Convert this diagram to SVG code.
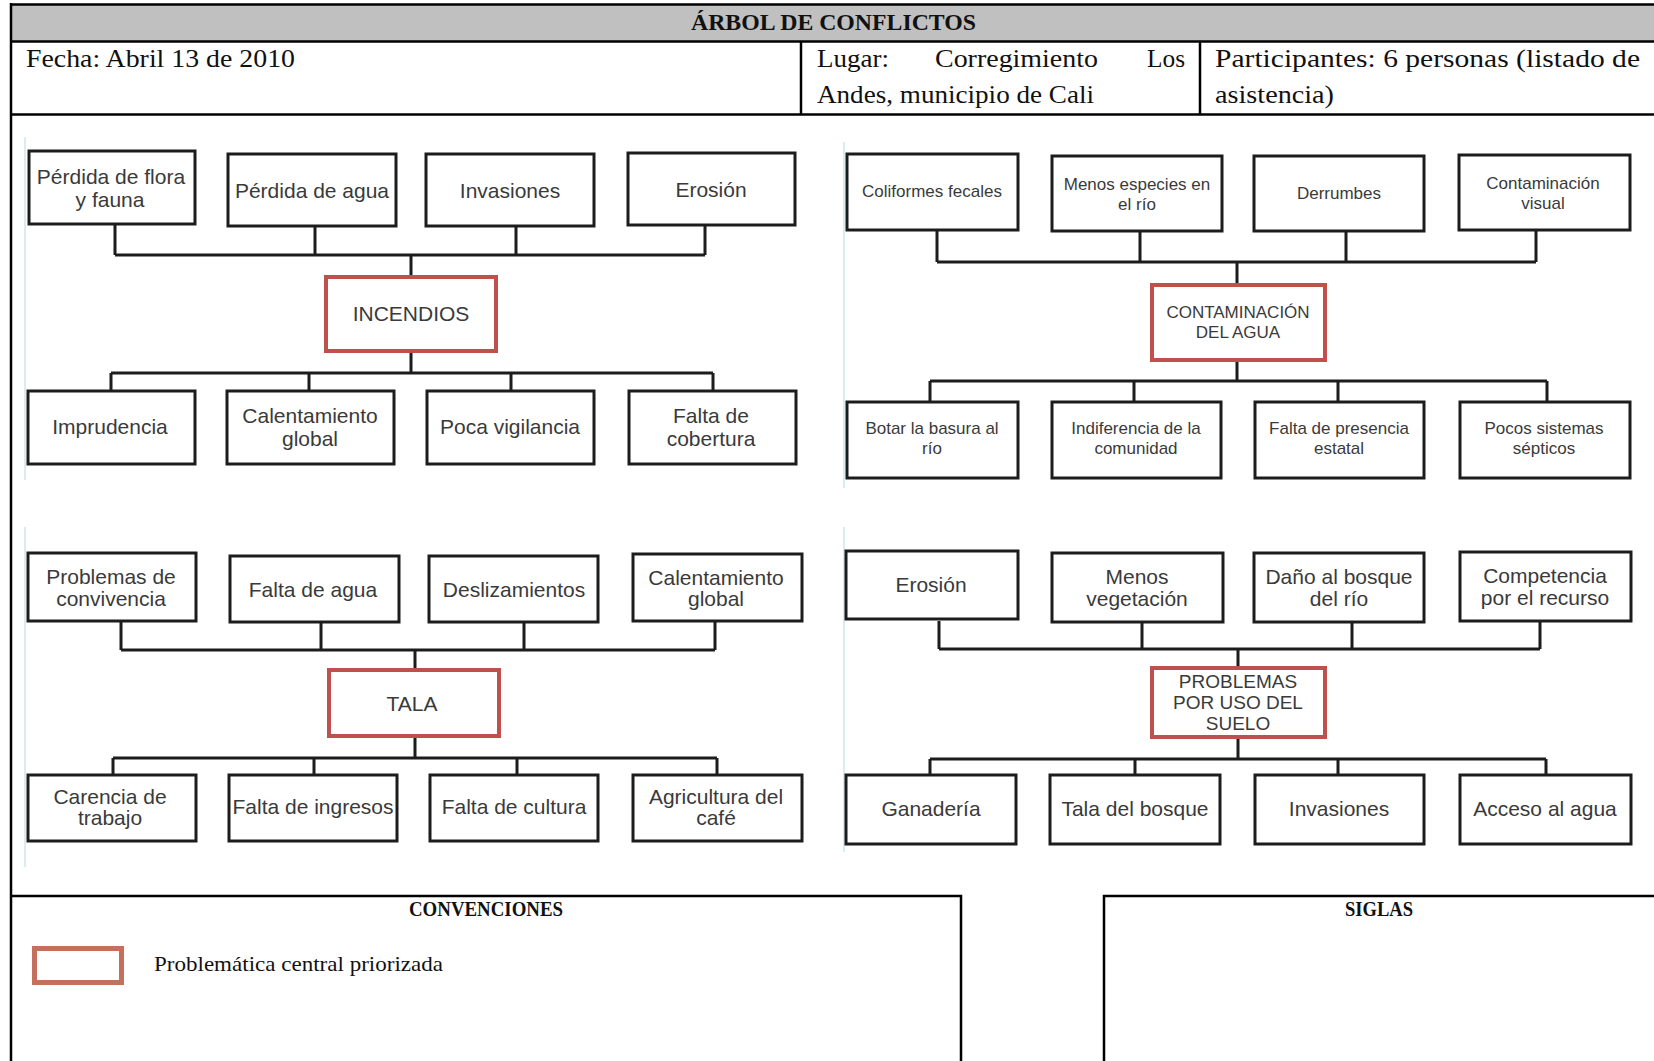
<svg xmlns="http://www.w3.org/2000/svg" width="1654" height="1061" viewBox="0 0 1654 1061">
<defs>
<style>
.bg{fill:#ffffff}
.frame{fill:none;stroke:#000;stroke-width:2.5}
.hd{font-family:"Liberation Serif","Times New Roman",serif;font-size:25px;fill:#111}
.hdb{font-family:"Liberation Serif","Times New Roman",serif;font-size:24px;font-weight:bold;fill:#111}
.lg{font-family:"Liberation Serif","Times New Roman",serif;font-size:20px;font-weight:bold;fill:#111}
.lgt{font-family:"Liberation Serif","Times New Roman",serif;font-size:21px;fill:#111}
.box{fill:#fff;stroke:#1c1c1c;stroke-width:3}
.core{fill:#fff;stroke:#c0504d;stroke-width:4}
.t{font-family:"Liberation Sans",Arial,sans-serif;font-size:21px;fill:#3a3a3a;text-anchor:middle;dominant-baseline:central}
.s{font-family:"Liberation Sans",Arial,sans-serif;font-size:17px;fill:#3a3a3a;text-anchor:middle;dominant-baseline:central}
.edge{stroke:#1c1c1c;stroke-width:3;fill:none}
.imgedge{stroke:#d8ecf2;stroke-width:2}
</style>
</defs>
<rect class="bg" x="0" y="0" width="1654" height="1061"/>

<!-- header table -->
<g id="header">
<rect x="11" y="4" width="1650" height="37.5" fill="#c0c0c0"/>
<line class="frame" x1="11" y1="4.5" x2="1654" y2="4.5" stroke-width="3"/>
<line class="frame" x1="11" y1="41.5" x2="1654" y2="41.5"/>
<line class="frame" x1="11" y1="114.5" x2="1654" y2="114.5" stroke-width="3"/>
<line class="frame" x1="11" y1="3" x2="11" y2="1061"/>
<line class="frame" x1="801" y1="41.5" x2="801" y2="114.5"/>
<line class="frame" x1="1200" y1="41.5" x2="1200" y2="114.5"/>
<text class="hdb" x="691" y="30" textLength="285" lengthAdjust="spacingAndGlyphs">ÁRBOL DE CONFLICTOS</text>
<text class="hd" x="26" y="67" textLength="269" lengthAdjust="spacingAndGlyphs">Fecha: Abril 13 de 2010</text>
<text class="hd" x="817" y="67" textLength="72" lengthAdjust="spacingAndGlyphs">Lugar:</text>
<text class="hd" x="935" y="67" textLength="163" lengthAdjust="spacingAndGlyphs">Corregimiento</text>
<text class="hd" x="1147" y="67" textLength="38" lengthAdjust="spacingAndGlyphs">Los</text>
<text class="hd" x="817" y="103" textLength="277" lengthAdjust="spacingAndGlyphs">Andes, municipio de Cali</text>
<text class="hd" x="1215" y="67" textLength="425" lengthAdjust="spacingAndGlyphs">Participantes: 6 personas (listado de</text>
<text class="hd" x="1215" y="103" textLength="119" lengthAdjust="spacingAndGlyphs">asistencia)</text>
</g>

<!-- faint picture edges -->
<g id="picture-edges">
<line class="imgedge" x1="25" y1="137" x2="25" y2="480"/>
<line class="imgedge" x1="844" y1="142" x2="844" y2="488"/>
<line class="imgedge" x1="25" y1="527" x2="25" y2="867"/>
<line class="imgedge" x1="844" y1="527" x2="844" y2="852"/>
</g>

<!-- connectors -->
<g id="connectors">
<path class="edge" d="M115 224V255M315 226V255M516 226V255M705 225V255M115 255H705M411 255V277"/>
<path class="edge" d="M411 351V373M111 373H713M111 373V391M309 373V391M511 373V391M713 373V391"/>
<path class="edge" d="M937 230V262M1140 230V262M1346 230V262M1536 230V262M937 262H1536M1237 262V285"/>
<path class="edge" d="M1237 360V381M930 381H1547M930 381V402M1134 381V402M1338 381V402M1547 381V402"/>
<path class="edge" d="M121 621V650M321 621V650M524 621V650M715 621V650M121 650H715M415 650V670"/>
<path class="edge" d="M415 736V758M113 758H717M113 758V775M314 758V775M517 758V775M717 758V775"/>
<path class="edge" d="M939 621V649M1142 621V649M1352 621V649M1540 621V649M939 649H1540M1238 649V668"/>
<path class="edge" d="M1238 737V759M930 759H1546M930 759V775M1135 759V775M1338 759V775M1546 759V775"/>
</g>

<!-- tree 1: INCENDIOS -->
<g id="t1-perdida-flora"><rect class="box" x="29" y="151" width="166" height="73"/><text class="t" x="111" y="176">Pérdida de flora</text><text class="t" x="110" y="199">y fauna</text></g>
<g id="t1-perdida-agua"><rect class="box" x="228" y="154" width="168" height="72"/><text class="t" x="312" y="190">Pérdida de agua</text></g>
<g id="t1-invasiones"><rect class="box" x="426" y="154" width="168" height="72"/><text class="t" x="510" y="190">Invasiones</text></g>
<g id="t1-erosion"><rect class="box" x="628" y="153" width="167" height="72"/><text class="t" x="711" y="189">Erosión</text></g>
<g id="t1-incendios"><rect class="core" x="326" y="277" width="170" height="74"/><text class="t" x="411" y="313">INCENDIOS</text></g>
<g id="t1-imprudencia"><rect class="box" x="28" y="391" width="167" height="73"/><text class="t" x="110" y="426">Imprudencia</text></g>
<g id="t1-calentamiento"><rect class="box" x="227" y="391" width="167" height="73"/><text class="t" x="310" y="415">Calentamiento</text><text class="t" x="310" y="438">global</text></g>
<g id="t1-vigilancia"><rect class="box" x="427" y="391" width="167" height="73"/><text class="t" x="510" y="426">Poca vigilancia</text></g>
<g id="t1-cobertura"><rect class="box" x="629" y="391" width="167" height="73"/><text class="t" x="711" y="415">Falta de</text><text class="t" x="711" y="438">cobertura</text></g>

<!-- tree 2: CONTAMINACIÓN DEL AGUA -->
<g id="t2-coliformes"><rect class="box" x="847" y="154" width="171" height="76"/><text class="s" x="932" y="191">Coliformes fecales</text></g>
<g id="t2-especies"><rect class="box" x="1052" y="156" width="170" height="75"/><text class="s" x="1137" y="184">Menos especies en</text><text class="s" x="1137" y="204">el río</text></g>
<g id="t2-derrumbes"><rect class="box" x="1254" y="156" width="170" height="75"/><text class="s" x="1339" y="193">Derrumbes</text></g>
<g id="t2-visual"><rect class="box" x="1459" y="155" width="171" height="75"/><text class="s" x="1543" y="183">Contaminación</text><text class="s" x="1543" y="203">visual</text></g>
<g id="t2-contaminacion"><rect class="core" x="1152" y="285" width="173" height="75"/><text class="s" x="1238" y="312">CONTAMINACIÓN</text><text class="s" x="1238" y="332">DEL AGUA</text></g>
<g id="t2-basura"><rect class="box" x="847" y="402" width="171" height="76"/><text class="s" x="932" y="428">Botar la basura al</text><text class="s" x="932" y="448">río</text></g>
<g id="t2-indiferencia"><rect class="box" x="1052" y="402" width="169" height="76"/><text class="s" x="1136" y="428">Indiferencia de la</text><text class="s" x="1136" y="448">comunidad</text></g>
<g id="t2-estatal"><rect class="box" x="1255" y="402" width="169" height="76"/><text class="s" x="1339" y="428">Falta de presencia</text><text class="s" x="1339" y="448">estatal</text></g>
<g id="t2-septicos"><rect class="box" x="1460" y="402" width="170" height="76"/><text class="s" x="1544" y="428">Pocos sistemas</text><text class="s" x="1544" y="448">sépticos</text></g>

<!-- tree 3: TALA -->
<g id="t3-convivencia"><rect class="box" x="28" y="553" width="168" height="68"/><text class="t" x="111" y="576">Problemas de</text><text class="t" x="111" y="598">convivencia</text></g>
<g id="t3-agua"><rect class="box" x="230" y="556" width="169" height="66"/><text class="t" x="313" y="589">Falta de agua</text></g>
<g id="t3-deslizamientos"><rect class="box" x="429" y="556" width="169" height="66"/><text class="t" x="514" y="589">Deslizamientos</text></g>
<g id="t3-calentamiento"><rect class="box" x="633" y="554" width="169" height="67"/><text class="t" x="716" y="577">Calentamiento</text><text class="t" x="716" y="598">global</text></g>
<g id="t3-tala"><rect class="core" x="329" y="670" width="170" height="66"/><text class="t" x="412" y="703">TALA</text></g>
<g id="t3-trabajo"><rect class="box" x="28" y="775" width="168" height="66"/><text class="t" x="110" y="796">Carencia de</text><text class="t" x="110" y="817">trabajo</text></g>
<g id="t3-ingresos"><rect class="box" x="229" y="775" width="168" height="66"/><text class="t" x="313" y="806">Falta de ingresos</text></g>
<g id="t3-cultura"><rect class="box" x="430" y="775" width="168" height="66"/><text class="t" x="514" y="806">Falta de cultura</text></g>
<g id="t3-cafe"><rect class="box" x="633" y="775" width="169" height="66"/><text class="t" x="716" y="796">Agricultura del</text><text class="t" x="716" y="817">café</text></g>

<!-- tree 4: PROBLEMAS POR USO DEL SUELO -->
<g id="t4-erosion"><rect class="box" x="846" y="551" width="172" height="68"/><text class="t" x="931" y="584">Erosión</text></g>
<g id="t4-vegetacion"><rect class="box" x="1052" y="553" width="171" height="69"/><text class="t" x="1137" y="576">Menos</text><text class="t" x="1137" y="598">vegetación</text></g>
<g id="t4-bosque-rio"><rect class="box" x="1254" y="553" width="170" height="69"/><text class="t" x="1339" y="576">Daño al bosque</text><text class="t" x="1339" y="598">del río</text></g>
<g id="t4-competencia"><rect class="box" x="1460" y="552" width="171" height="69"/><text class="t" x="1545" y="575">Competencia</text><text class="t" x="1545" y="597">por el recurso</text></g>
<g id="t4-suelo"><rect class="core" x="1152" y="668" width="173" height="69"/><text class="t" x="1238" y="681" style="font-size:19px">PROBLEMAS</text><text class="t" x="1238" y="702" style="font-size:19px">POR USO DEL</text><text class="t" x="1238" y="723" style="font-size:19px">SUELO</text></g>
<g id="t4-ganaderia"><rect class="box" x="846" y="775" width="170" height="69"/><text class="t" x="931" y="808">Ganadería</text></g>
<g id="t4-tala-bosque"><rect class="box" x="1050" y="775" width="170" height="69"/><text class="t" x="1135" y="808">Tala del bosque</text></g>
<g id="t4-invasiones"><rect class="box" x="1255" y="775" width="169" height="69"/><text class="t" x="1339" y="808">Invasiones</text></g>
<g id="t4-acceso"><rect class="box" x="1460" y="775" width="171" height="69"/><text class="t" x="1545" y="808">Acceso al agua</text></g>

<!-- legend boxes -->
<g id="convenciones">
<path class="frame" d="M11 896H961V1061"/>
<text class="lg" x="409" y="916" textLength="154" lengthAdjust="spacingAndGlyphs">CONVENCIONES</text>
<rect x="34.5" y="948.5" width="87" height="34" fill="#fff" stroke="#c4705c" stroke-width="5"/>
<text class="lgt" x="154" y="971" textLength="289" lengthAdjust="spacingAndGlyphs">Problemática central priorizada</text>
</g>
<g id="siglas">
<path class="frame" d="M1104 1061V896H1654"/>
<text class="lg" x="1345" y="916" textLength="68" lengthAdjust="spacingAndGlyphs">SIGLAS</text>
</g>
</svg>
